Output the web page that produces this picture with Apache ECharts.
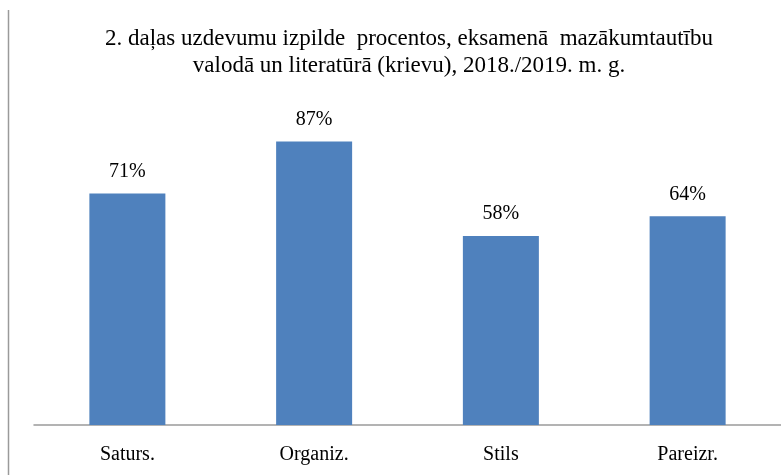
<!DOCTYPE html>
<html>
<head>
<meta charset="utf-8">
<script src="https://cdn.jsdelivr.net/npm/echarts@6/dist/echarts.min.js"></script>
<style>
  html, body { margin: 0; padding: 0; background: #fff; }
  #main { width: 781px; height: 475px; }
</style>
</head>
<body>
<div id="main"></div>
<script>
// kategorijas un vērtības (%)
var categories = ['Saturs.', 'Organiz.', 'Stils', 'Pareizr.']
var values = [71, 87, 58, 64]

var chart = echarts.init(document.getElementById('main'))
chart.setOption({
  animation: false,
  title: {
    text: '2. daļas uzdevumu izpilde  procentos, eksamenā  mazākumtautību\nvalodā un literatūrā (krievu), 2018./2019. m. g.',
    left: 404,
    textAlign: 'center',
    top: 20,
    textStyle: {
      fontFamily: 'Liberation Serif',
      fontSize: 23,
      fontWeight: 'normal',
      color: '#000',
      lineHeight: 27
    }
  },
  // rāmja kreisā mala
  graphic: [{
    type: 'line',
    shape: { x1: 8.5, y1: 10, x2: 8.5, y2: 475 },
    style: { stroke: '#9a9a9a', lineWidth: 1.5 }
  }],
  grid: { left: 34, right: 0, top: 99, bottom: 50, containLabel: false },
  xAxis: {
    type: 'category',
    data: categories,
    axisTick: { show: false },
    axisLine: { lineStyle: { color: '#9a9a9a', width: 1.5 } },
    axisLabel: {
      fontFamily: 'Liberation Serif',
      fontSize: 20,
      color: '#000',
      margin: 20
    }
  },
  yAxis: {
    type: 'value',
    min: 0,
    max: 100,
    show: false,
    splitLine: { show: false }
  },
  series: [{
    type: 'bar',
    data: values,
    barWidth: '40.7%',
    itemStyle: { color: '#4F81BD' },
    label: {
      show: true,
      position: 'top',
      distance: 12,
      formatter: '{c}%',
      fontFamily: 'Liberation Serif',
      fontSize: 20,
      color: '#000'
    }
  }]
})
</script>
</body>
</html>
